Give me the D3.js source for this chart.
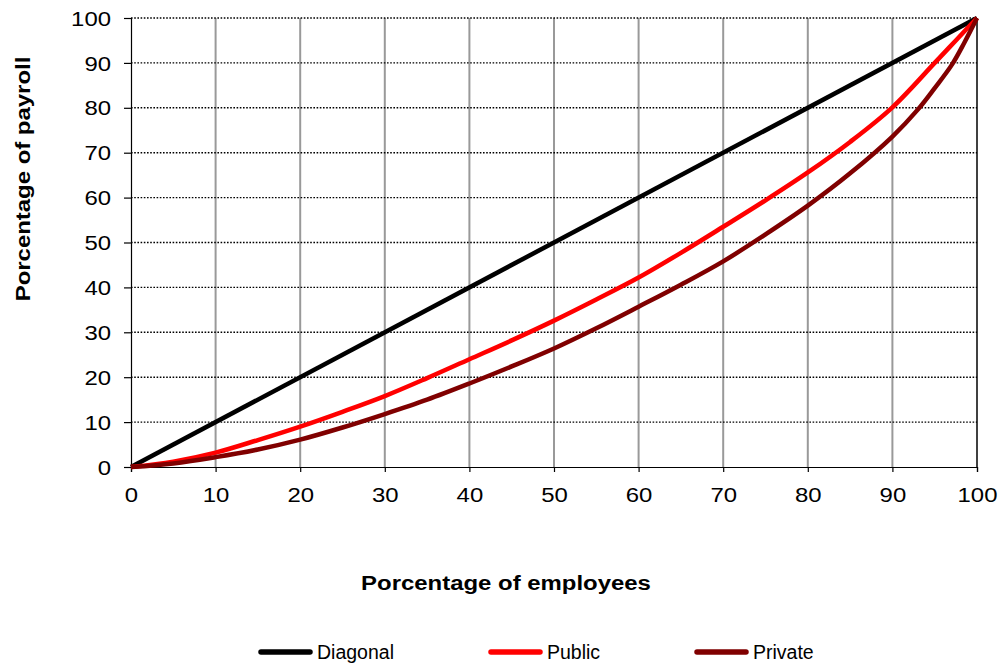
<!DOCTYPE html>
<html>
<head>
<meta charset="utf-8">
<script src="https://cdn.jsdelivr.net/npm/d3@7"></script>
<style>
  html, body { margin: 0; padding: 0; background: #fff; }
  svg { display: block; font-family: "Liberation Sans", Arial, sans-serif; }
</style>
</head>
<body>
<svg id="chart" width="1005" height="663"></svg>
<script>
// Lorenz curves of payroll distribution
const xTicks = [0, 10, 20, 30, 40, 50, 60, 70, 80, 90, 100];
const yTicks = [0, 10, 20, 30, 40, 50, 60, 70, 80, 90, 100];

const diagonalX = [0, 100];
const diagonalY = [0, 100];

const publicX = [0, 5, 10, 15, 20, 25, 30, 35, 40, 45, 50, 55, 60, 65, 70, 75, 80, 85, 90, 95, 97.5, 100];
const publicY = [0, 1.2, 3.2, 6.0, 9.0, 12.3, 15.8, 19.8, 24.0, 28.2, 32.6, 37.3, 42.2, 47.7, 53.5, 59.4, 65.6, 72.4, 80.1, 90.0, 95.0, 100];

const privateX = [0, 5, 10, 15, 20, 25, 30, 35, 40, 45, 50, 55, 60, 65, 70, 75, 80, 85, 90, 93, 95, 97, 98.5, 100];
const privateY = [0, 0.8, 2.2, 3.9, 6.1, 8.8, 11.8, 15.0, 18.6, 22.4, 26.4, 30.9, 35.7, 40.6, 45.8, 51.8, 58.2, 65.4, 73.6, 79.6, 84.4, 89.5, 94.5, 100];

const seriesNames = ["Diagonal", "Public", "Private"];
const seriesColors = ["#000000", "#ff0000", "#800000"];

const svg = d3.select("#chart");
const plotLeft = 131, plotRight = 977, plotTop = 18, plotBottom = 467;

const x = d3.scaleLinear().domain([0, 100]).range([plotLeft, plotRight]);
const y = d3.scaleLinear().domain([0, 100]).range([plotBottom, plotTop]);

// text in this chart is set slightly wide
const stretch = "scale(1.14,1)";

// vertical grid lines (solid gray)
svg.append("g")
  .selectAll("line")
  .data(xTicks.filter(d => d > 0 && d < 100))
  .join("line")
  .attr("x1", d => x(d)).attr("x2", d => x(d))
  .attr("y1", plotTop).attr("y2", plotBottom)
  .attr("stroke", "#999").attr("stroke-width", 2);

// right border
svg.append("line")
  .attr("x1", x(100)).attr("x2", x(100))
  .attr("y1", plotTop).attr("y2", plotBottom)
  .attr("stroke", "#404040").attr("stroke-width", 2);

// horizontal grid lines (dotted)
svg.append("g")
  .selectAll("line")
  .data(yTicks.filter(d => d > 0))
  .join("line")
  .attr("x1", plotLeft).attr("x2", plotRight)
  .attr("y1", d => y(d)).attr("y2", d => y(d))
  .attr("stroke", "#000").attr("stroke-width", 1.4)
  .attr("stroke-dasharray", "1.6,1.6");

// axes
const yAxis = svg.append("g")
  .attr("transform", `translate(${plotLeft},0)`)
  .call(d3.axisLeft(y).tickValues(yTicks).tickSize(7).tickPadding(13));
const xAxis = svg.append("g")
  .attr("transform", `translate(0,${plotBottom})`)
  .call(d3.axisBottom(x).tickValues(xTicks).tickSize(5).tickPadding(15));

[yAxis, xAxis].forEach(a => {
  a.select(".domain").attr("stroke", "#000").attr("stroke-width", 1.2);
  a.selectAll(".tick line").attr("stroke", "#000").attr("stroke-width", 1.2);
  a.selectAll(".tick text")
    .attr("font-size", 21)
    .attr("font-family", "Liberation Sans, Arial, sans-serif")
    .attr("fill", "#000")
    .attr("transform", stretch);
});
yAxis.selectAll(".tick text").attr("x", -20 / 1.14).attr("dy", "0.34em");
xAxis.selectAll(".tick text").attr("dy", "0.72em");

// smoothed curves
const line = d3.line()
  .x(d => x(d[0])).y(d => y(d[1]))
  .curve(d3.curveCatmullRom.alpha(0.5));

const series = [
  d3.zip(diagonalX, diagonalY),
  d3.zip(publicX, publicY),
  d3.zip(privateX, privateY)
];

svg.append("g")
  .selectAll("path")
  .data(series)
  .join("path")
  .attr("d", line)
  .attr("fill", "none")
  .attr("stroke", (d, i) => seriesColors[i])
  .attr("stroke-width", 4.5)
  .attr("stroke-linejoin", "round");

// axis titles
svg.append("text")
  .attr("transform", `translate(506,590) ${stretch}`)
  .attr("text-anchor", "middle")
  .attr("font-size", 21).attr("font-weight", "bold")
  .text("Porcentage of employees");

svg.append("text")
  .attr("transform", `translate(30,179) rotate(-90) ${stretch}`)
  .attr("text-anchor", "middle")
  .attr("font-size", 21).attr("font-weight", "bold")
  .text("Porcentage of payroll");

// legend
const legendX = [258, 488, 694];
const legend = svg.append("g")
  .selectAll("g")
  .data(seriesNames)
  .join("g")
  .attr("transform", (d, i) => `translate(${legendX[i]},652)`);
legend.append("line")
  .attr("x1", 3).attr("x2", 52)
  .attr("stroke", (d, i) => seriesColors[i])
  .attr("stroke-width", 5.5).attr("stroke-linecap", "round");
legend.append("text")
  .attr("x", 59).attr("y", 7)
  .attr("font-size", 19.5)
  .text(d => d);
</script>
</body>
</html>
